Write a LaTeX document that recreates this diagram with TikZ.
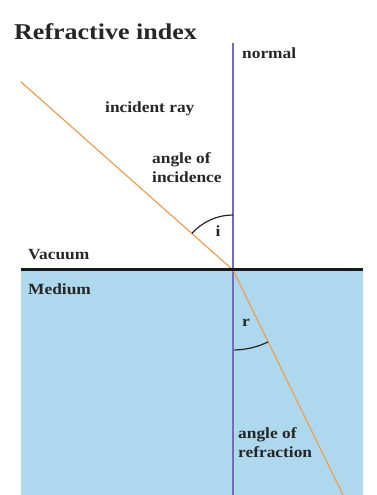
\documentclass[tikz,border=0pt]{standalone}
\usepackage{fontspec}
\setmainfont{Liberation Serif}
\usepackage{graphicx}
\newcommand{\sx}[1]{\scalebox{1.12}[1]{#1}}
\definecolor{medblue}{RGB}{173,216,238}
\definecolor{normalc}{RGB}{118,108,188}
\definecolor{rayc}{RGB}{240,158,78}
\tikzset{
  lbl/.style={inner sep=0pt, font=\bfseries\fontsize{15.5}{19}\selectfont, text=black!85},
  ray/.style={draw=rayc, line width=1.2pt},
  anglearc/.style={draw=black!85, line width=1.2pt}
}
\begin{document}
\begin{tikzpicture}[x=1pt,y=1pt]
\useasboundingbox (0,0) rectangle (376,495);
% coordinates
\coordinate (O) at (233,225);
\coordinate (ntop) at (233,452);
\coordinate (nbot) at (233,0);
\coordinate (sl) at (20.5,225);
\coordinate (sr) at (362.5,225);
\coordinate (inc) at (20.7,413.3);
\coordinate (refr) at (343,0);
% medium
\fill[medblue] (20.5,0) rectangle (362.5,225);
% normal
\draw[normalc, line width=2pt] (ntop) -- (nbot);
% rays
\draw[ray] (inc) -- (O);
\draw[ray] (O) -- (refr);
% interface
\draw[black!90, line width=3pt] (sl) -- (sr);
% angle arcs
\draw[anglearc] (O) ++(90:55) coordinate (ia) arc[start angle=90, end angle=138.4, radius=55];
\draw[anglearc] (O) ++(-89:80) coordinate (ra) arc[start angle=-89, end angle=-64, radius=80];
% texts
\node[anchor=base west, inner sep=0pt, font=\bfseries\fontsize{22.6}{27}\selectfont, text=black!85] (title) at (14,455) {\scalebox{1.15}[1]{Refractive index}};
\node[lbl, anchor=base west] (normal) at (242,436) {\sx{normal}};
\node[lbl, anchor=base west] (incray) at (105,382) {\sx{incident ray}};
\node[lbl, anchor=base west] (aoi) at (152,331) {\sx{\begin{tabular}[t]{@{}l@{}}angle of\\incidence\end{tabular}}};
\node[lbl, anchor=base] (i) at (218,258) {\sx{i}};
\node[lbl, anchor=base west] (vac) at (28,235) {\sx{Vacuum}};
\node[lbl, anchor=base west] (med) at (28,200) {\sx{Medium}};
\node[lbl, anchor=base] (r) at (246,168) {\sx{r}};
\node[lbl, anchor=base west] (aor) at (238,56) {\sx{\begin{tabular}[t]{@{}l@{}}angle of\\refraction\end{tabular}}};
\end{tikzpicture}
\end{document}
